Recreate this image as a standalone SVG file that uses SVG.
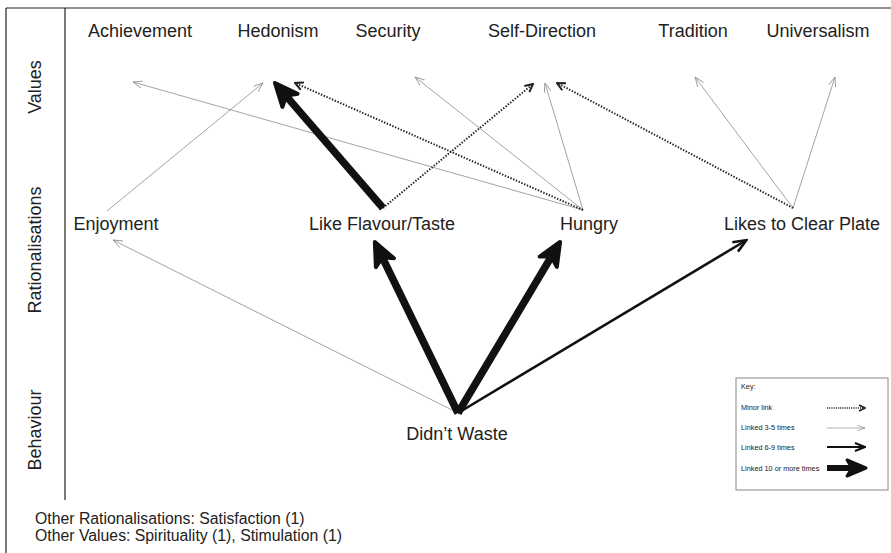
<svg xmlns="http://www.w3.org/2000/svg" width="891" height="553" viewBox="0 0 891 553">
<style>
text{font-family:"Liberation Sans",Arial,Helvetica,sans-serif;fill:#222}
.n{font-size:18px;text-anchor:middle}
.lab{font-size:18px;text-anchor:middle}
.key{font-size:7.3px}
.foot{font-size:15.8px}
.frame{stroke:#222;stroke-width:1.2;fill:none}
.thin{stroke:#8c8c8c;stroke-width:0.8;fill:none}
.dot{stroke:#222;stroke-width:2;stroke-dasharray:1.4 1.6;fill:none}
.med{stroke:#111;stroke-width:2.6;fill:none}
.thick{stroke:#111;stroke-width:7.5;fill:none}
.kdot{stroke:#222;stroke-width:1.5;stroke-dasharray:1.1 1.1;fill:none}
.kthin{stroke:#8c8c8c;stroke-width:0.7;fill:none}
.kmed{stroke:#111;stroke-width:2;fill:none}
.kthick{stroke:#111;stroke-width:6;fill:none}
</style>
<defs>
<marker id="mThin" markerUnits="userSpaceOnUse" viewBox="0 0 10 8" markerWidth="10" markerHeight="8" refX="9.6" refY="4" orient="auto"><path d="M0,0.3 L9.6,4 L0,7.7" fill="none" stroke="#8c8c8c" stroke-width="0.8"/></marker>
<marker id="mDot" markerUnits="userSpaceOnUse" viewBox="0 0 10 10" markerWidth="10" markerHeight="10" refX="9" refY="5" orient="auto"><path d="M1,1 L9,5 L1,9" fill="none" stroke="#222" stroke-width="2"/></marker>
<marker id="mMed" markerUnits="userSpaceOnUse" viewBox="0 0 16 14" markerWidth="16" markerHeight="14" refX="13" refY="7" orient="auto"><path d="M1.5,1.5 L14.5,7 L1.5,12.5" fill="none" stroke="#111" stroke-width="2.6"/></marker>
<marker id="mThick" markerUnits="userSpaceOnUse" viewBox="0 0 30 28" markerWidth="30" markerHeight="28" refX="15" refY="14" orient="auto"><path d="M4,4 L27,14 L4,24 L10,14 Z" fill="#111" stroke="#111" stroke-width="4" stroke-linejoin="round"/></marker>
<marker id="kDot" markerUnits="userSpaceOnUse" viewBox="0 0 8 8" markerWidth="8" markerHeight="8" refX="7" refY="4" orient="auto"><path d="M1,1 L7,4 L1,7" fill="none" stroke="#222" stroke-width="1.6"/></marker>
<marker id="kThin" markerUnits="userSpaceOnUse" viewBox="0 0 8 6" markerWidth="8" markerHeight="6" refX="7.6" refY="3" orient="auto"><path d="M0,0.3 L7.6,3 L0,5.7" fill="none" stroke="#8c8c8c" stroke-width="0.7"/></marker>
<marker id="kMed" markerUnits="userSpaceOnUse" viewBox="0 0 12 10" markerWidth="12" markerHeight="10" refX="10" refY="5" orient="auto"><path d="M1,1 L11,5 L1,9" fill="none" stroke="#111" stroke-width="2"/></marker>
<marker id="kThick" markerUnits="userSpaceOnUse" viewBox="0 0 24 22" markerWidth="24" markerHeight="22" refX="12" refY="11" orient="auto"><path d="M3,3 L22,11 L3,19 L8,11 Z" fill="#111" stroke="#111" stroke-width="3" stroke-linejoin="round"/></marker>
</defs>

<g id="frame">
<line class="frame" x1="6" y1="8" x2="891" y2="8"/>
<line class="frame" x1="6" y1="8" x2="6" y2="553"/>
<line class="frame" x1="65" y1="8" x2="65" y2="500"/>
<text class="lab" transform="translate(41,87) rotate(-90)">Values</text>
<text class="lab" transform="translate(41,250) rotate(-90)">Rationalisations</text>
<text class="lab" transform="translate(41,430) rotate(-90)">Behaviour</text>
</g>

<g id="connectors">
<line class="thin" x1="458" y1="413" x2="113" y2="240" marker-end="url(#mThin)"/>
<line class="thin" x1="107" y1="211" x2="263" y2="83" marker-end="url(#mThin)"/>
<line class="thin" x1="583" y1="210" x2="133" y2="82" marker-end="url(#mThin)"/>
<line class="thin" x1="583" y1="210" x2="415" y2="77" marker-end="url(#mThin)"/>
<line class="thin" x1="583" y1="210" x2="545" y2="83" marker-end="url(#mThin)"/>
<line class="thin" x1="793" y1="208" x2="695" y2="77" marker-end="url(#mThin)"/>
<line class="thin" x1="793" y1="208" x2="835" y2="77" marker-end="url(#mThin)"/>
<line class="dot" x1="583" y1="210" x2="295" y2="83" marker-end="url(#mDot)"/>
<line class="dot" x1="383" y1="208" x2="533" y2="84" marker-end="url(#mDot)"/>
<line class="dot" x1="793" y1="208" x2="557" y2="83" marker-end="url(#mDot)"/>
<line class="med" x1="458" y1="413" x2="745" y2="241" marker-end="url(#mMed)"/>
<line class="thick" x1="383" y1="208" x2="282.8" y2="92.1" marker-end="url(#mThick)"/>
<line class="thick" x1="458" y1="413" x2="380.1" y2="252.8" marker-end="url(#mThick)"/>
<line class="thick" x1="458" y1="413" x2="553.9" y2="252.3" marker-end="url(#mThick)"/>
</g>

<g id="achievement"><text class="n" x="140" y="37">Achievement</text></g>
<g id="hedonism"><text class="n" x="278" y="37">Hedonism</text></g>
<g id="security"><text class="n" x="388" y="37">Security</text></g>
<g id="self-direction"><text class="n" x="542" y="37">Self-Direction</text></g>
<g id="tradition"><text class="n" x="693" y="37">Tradition</text></g>
<g id="universalism"><text class="n" x="818" y="37">Universalism</text></g>

<g id="enjoyment"><text class="n" x="116" y="230">Enjoyment</text></g>
<g id="like-flavour"><text class="n" x="382" y="230">Like Flavour/Taste</text></g>
<g id="hungry"><text class="n" x="589" y="230">Hungry</text></g>
<g id="likes-clear-plate"><text class="n" x="802" y="230">Likes to Clear Plate</text></g>

<g id="didnt-waste"><text class="n" x="457" y="440">Didn’t Waste</text></g>

<g id="legend">
<rect x="736" y="378" width="152" height="112" fill="#fff" stroke="#888" stroke-width="1"/>
<text class="key" x="741" y="389">Key:</text>
<text class="key" x="741" y="410">Minor link</text>
<text class="key" x="741" y="430">Linked 3-5 times</text>
<text class="key" x="741" y="450">Linked 6-9 times</text>
<text class="key" x="741" y="471">Linked 10 or more times</text>
<line class="kdot" x1="827" y1="408" x2="865" y2="408" marker-end="url(#kDot)"/>
<line class="kthin" x1="827" y1="428" x2="865" y2="428" marker-end="url(#kThin)"/>
<line class="kmed" x1="827" y1="447" x2="864" y2="447" marker-end="url(#kMed)"/>
<line class="kthick" x1="827" y1="468" x2="856" y2="468" marker-end="url(#kThick)"/>
</g>

<g id="notes">
<text class="foot" x="35" y="524">Other Rationalisations: Satisfaction (1)</text>
<text class="foot" x="35" y="541">Other Values: Spirituality (1), Stimulation (1)</text>
</g>
</svg>
